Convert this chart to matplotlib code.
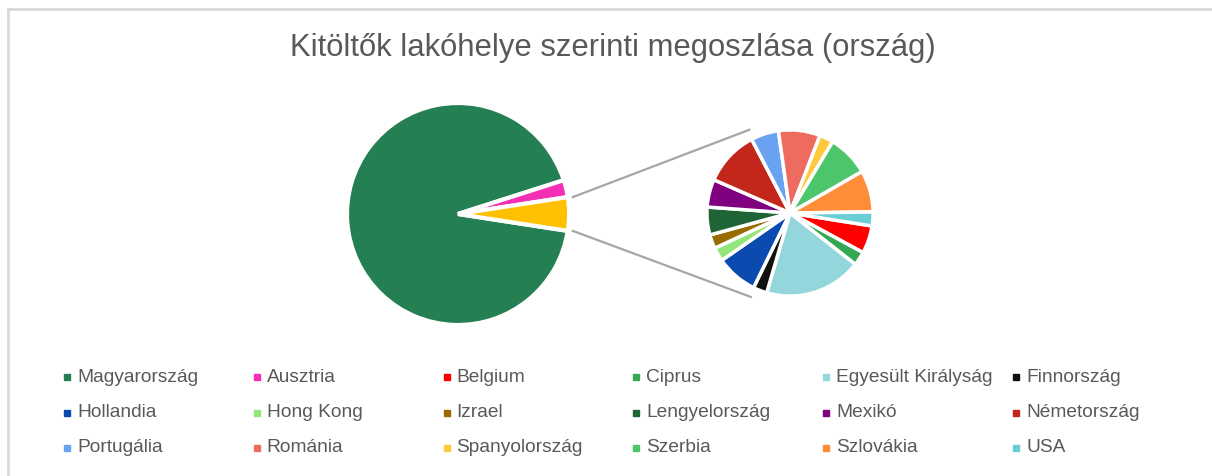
import numpy as np
import matplotlib.pyplot as plt
from matplotlib.patches import Rectangle

plt.rcParams['font.family'] = ['Liberation Sans', 'DejaVu Sans']

W, H = 1212, 476

# fő kör: Magyarország, Ausztria + "egyéb" (a második körben részletezve)
main_labels = ['Magyarország', 'Ausztria']
main_values = [705, 19]
main_colors = ['#248052', '#f42fb5']
other_color = '#ffc000'

# második kör
other_labels = ['Belgium', 'Ciprus', 'Egyesült Királyság', 'Finnország',
                'Hollandia', 'Hong Kong', 'Izrael', 'Lengyelország', 'Mexikó',
                'Németország', 'Portugália', 'Románia', 'Spanyolország',
                'Szerbia', 'Szlovákia', 'USA']
other_values = [2, 1, 7, 1, 3, 1, 1, 2, 2, 4, 2, 3, 1, 3, 3, 1]
other_colors = ['#ff0000', '#34a853', '#93d7dd', '#111111', '#0b4bb0',
                '#92e67b', '#9a6b00', '#1f6436', '#800080', '#c3261b',
                '#6aa2f2', '#ee6b60', '#ffc93c', '#4dc56b', '#ff8c37',
                '#6accd4']

title = 'Kitöltők lakóhelye szerinti megoszlása (ország)'

fig = plt.figure(figsize=(12.12, 4.76), dpi=100)
ax = fig.add_axes([0, 0, 1, 1])

vals = main_values + [sum(other_values)]
other_deg = 360 * vals[-1] / sum(vals)
w_main, _ = ax.pie(vals, colors=main_colors + [other_color],
                   center=(458, H - 214), radius=111,
                   startangle=-other_deg / 2, counterclock=False,
                   explode=[0, 0.1, 0.1],
                   wedgeprops=dict(edgecolor='white', linewidth=3))

sec_c = (790, H - 213)
sec_r = 83
w_sec, _ = ax.pie(other_values, colors=other_colors,
                  center=sec_c, radius=sec_r,
                  startangle=-9, counterclock=False,
                  explode=[0.08] * len(other_values),
                  wedgeprops=dict(edgecolor='white', linewidth=2.5))

# összekötő vonalak
ow = w_main[-1]
cx, cy = ow.center
for th, sec_ang in [(ow.theta2, 116), (ow.theta1, -115)]:
    x0 = cx + ow.r * np.cos(np.radians(th)) + 5
    y0 = cy + ow.r * np.sin(np.radians(th))
    rr = sec_r * 1.08 + 3
    x1 = sec_c[0] + rr * np.cos(np.radians(sec_ang))
    y1 = sec_c[1] + rr * np.sin(np.radians(sec_ang))
    ax.plot([x0, x1], [y0, y1], color='#a6a6a6', lw=1.6, zorder=0)

# keret
ax.plot([8, 8], [0, H - 9], color='#d9d9d9', lw=2)
ax.plot([8, W], [H - 9, H - 9], color='#d9d9d9', lw=2)

ax.text(613, H - 48, title, ha='center', va='center', fontsize=22.3,
        color='#595959')

# jelmagyarázat
all_labels = main_labels + other_labels
all_colors = main_colors + other_colors
for i, (name, col) in enumerate(zip(all_labels, all_colors)):
    row, c = divmod(i, 6)
    x = 67 + 189.8 * c
    y = H - (377 + 35.5 * row)
    ax.add_patch(Rectangle((x - 3, y - 3), 6, 6, color=col))
    ax.text(x + 10, y, name, ha='left', va='center', fontsize=13.8,
            color='#595959')

ax.set_xlim(0, W)
ax.set_ylim(0, H)
ax.axis('off')

plt.savefig('out.png', dpi=100)
